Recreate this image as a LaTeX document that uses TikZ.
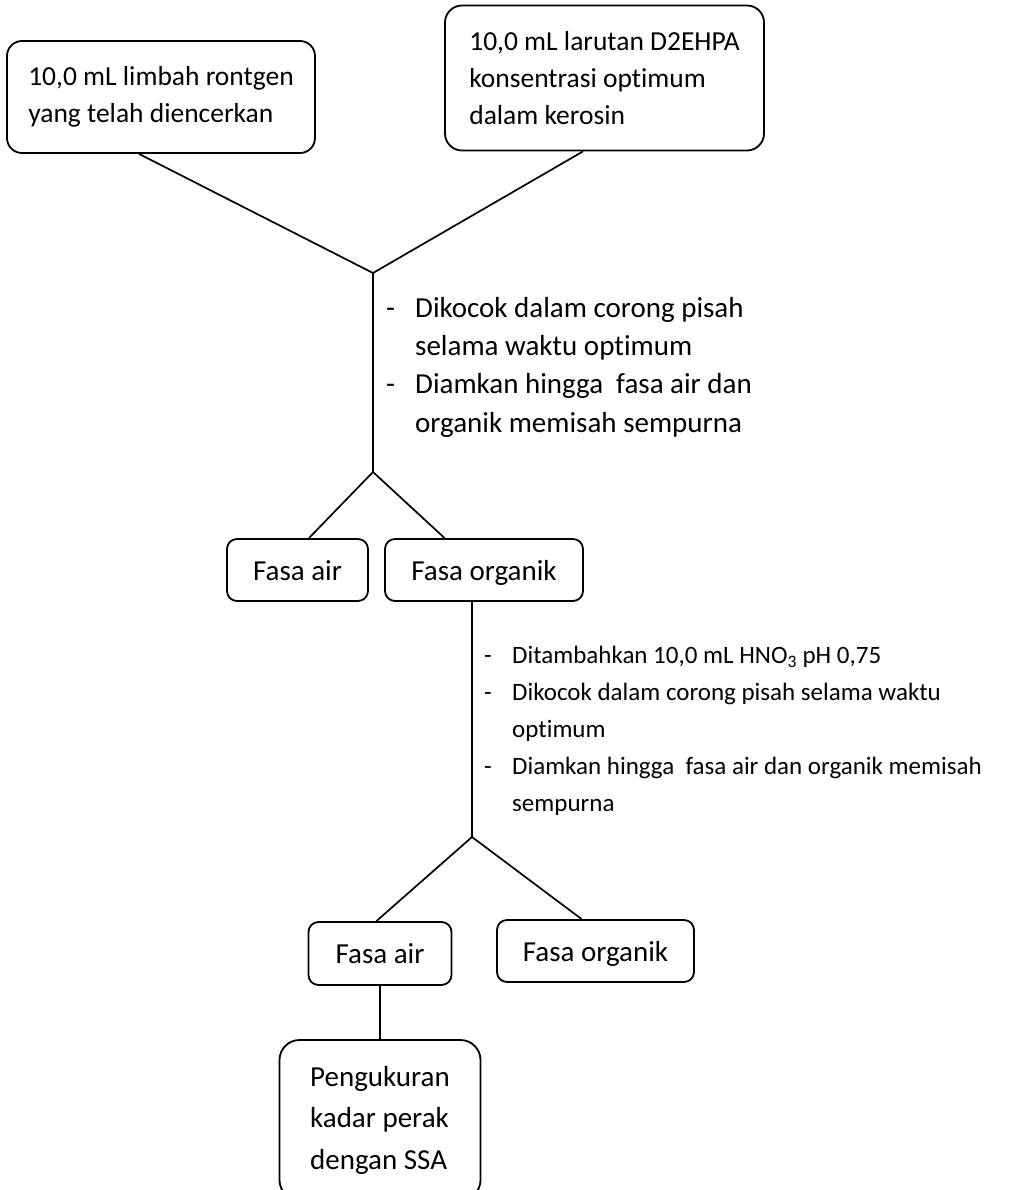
\documentclass[tikz,border=0pt]{standalone}
\usepackage{fontspec}
\setmainfont{Carlito}[Ligatures={NoCommon,NoRare}]
\usetikzlibrary{calc}
\begin{document}
\begin{tikzpicture}[x=1pt,y=-1pt,
  box/.style={draw, line width=1.8pt, rounded corners=#1, inner sep=0pt, align=left,
    font=\fontsize{27.5}{37}\selectfont},
  box/.default=10pt,
  small/.style={font=\fontsize{29}{37}\selectfont, text height=20pt, text depth=0pt},
  conn/.style={line width=1.7pt},
  steps/.style={inner sep=0pt, align=left, anchor=north west, font=\fontsize{29}{38.3}\selectfont}]
\useasboundingbox (0,0) rectangle (1021,1190);
\clip (0,0) rectangle (1021,1190);
% boxes
\node[box=15pt, minimum width=308pt, minimum height=112pt] (b1) at (161,97)
  {10,0 mL limbah rontgen\\yang telah diencerkan};
\node[box=17pt, minimum width=319pt, minimum height=145pt] (b2) at (604.5,78)
  {10,0 mL larutan D2EHPA\\konsentrasi optimum\\dalam kerosin};
\node[box, small, minimum width=141pt, minimum height=62pt] (fa1) at (297.5,570) {Fasa air};
\node[box, small, minimum width=198pt, minimum height=62pt] (fo1) at (484,570) {Fasa organik};
\node[box, small, minimum width=143pt, minimum height=63pt] (fa2) at (380,953.5) {Fasa air};
\node[box, small, minimum width=197pt, minimum height=62pt] (fo2) at (595.5,951) {Fasa organik};
\node[box=20pt, minimum width=201pt, minimum height=160pt,
  font=\fontsize{29}{41.5}\selectfont] (pk) at (380,1120)
  {Pengukuran\\kadar perak\\dengan SSA};
% junctions
\coordinate (j1) at (373,273);
\coordinate (j2) at (373,472);
\coordinate (j3) at (472,837);
% step texts
\node[steps] (s1) at (386,297) {\makebox[29pt][l]{-}Dikocok dalam corong pisah\\
  \hspace*{29pt}selama waktu optimum\\
  \makebox[29pt][l]{-}Diamkan hingga \ fasa air dan\\
  \hspace*{29pt}organik memisah sempurna};
\node[steps, font=\fontsize{25}{37}\selectfont] (s2) at (484,646) {\makebox[28pt][l]{-}Ditambahkan 10,0 mL HNO\textsubscript{3} pH 0,75\\
  \makebox[28pt][l]{-}Dikocok dalam corong pisah selama waktu\\
  \hspace*{28pt}optimum\\
  \makebox[28pt][l]{-}Diamkan hingga \ fasa air dan organik memisah\\
  \hspace*{28pt}sempurna};
% connectors
\draw[conn] ($(b1.south west)!0.429!(b1.south east)$) -- (j1);
\draw[conn] ($(b2.south west)!0.433!(b2.south east)$) -- (j1);
\draw[conn] (j1) -- (j2);
\draw[conn] (j2) -- ($(fa1.north west)!0.58!(fa1.north east)$);
\draw[conn] (j2) -- ($(fo1.north west)!0.303!(fo1.north east)$);
\draw[conn] ($(fo1.south west)!0.44!(fo1.south east)$) -- (j3);
\draw[conn] (j3) -- ($(fa2.north west)!0.475!(fa2.north east)$);
\draw[conn] (j3) -- ($(fo2.north west)!0.43!(fo2.north east)$);
\draw[conn] (fa2.south) -- (fa2.south |- pk.north);
\end{tikzpicture}
\end{document}
